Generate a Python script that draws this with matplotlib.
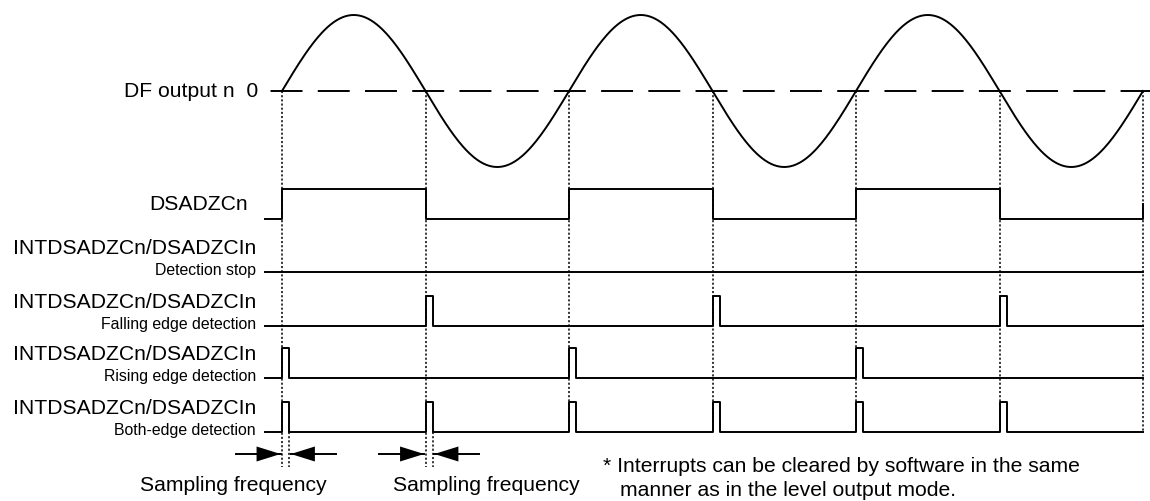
import numpy as np
import matplotlib.pyplot as plt

plt.rcParams['font.family'] = ['Liberation Sans', 'DejaVu Sans']
plt.rcParams['lines.scale_dashes'] = False

# time axis in half periods of DF output n (zero crossings at integers)
crossings = [0, 1, 2, 3, 4, 5, 6]
rising_edges = [0, 2, 4]
falling_edges = [1, 3, 5]
both_edges = [0, 1, 2, 3, 4, 5]
sample_width = 0.052          # one sampling period
marked_edges = [0, 1]         # edges where the sampling period is annotated

df_label = "DF output n  0"
zc_label = "DSADZCn"
int_label = "INTDSADZCn/DSADZCIn"
modes = ["Detection stop", "Falling edge detection",
         "Rising edge detection", "Both-edge detection"]
mode_edges = [[], falling_edges, rising_edges, both_edges]
sampling_label = "Sampling frequency"
note_lines = ["* Interrupts can be cleared by software in the same",
              "manner as in the level output mode."]

# ---- layout (pixel rows, x in half periods) ----
PX0, PXS = 282.0, 143.5
def tx(px):
    return (px - PX0) / PXS

zero_y, amp = 91, 76
zc_base = 219
mode_base = [272, 326, 378, 432]
pulse_h = 30
start_t = tx(265)
end_t = crossings[-1]
arrow_y = 454
ext_y = 467
LW = 1.4
big, small = 15.2, 11.4

fig = plt.figure(figsize=(11.5, 5.01), dpi=100)
ax = fig.add_axes([0, 0, 1, 1])
ax.set_xlim(tx(0), tx(1150))
ax.set_ylim(501, 0)
ax.axis('off')

# dotted guide lines
dot = dict(color='black', lw=1.1, linestyle=(0, (1.5, 1.5)), zorder=1)
for c in crossings:
    bottom = ext_y if c in marked_edges else mode_base[-1]
    ax.plot([c, c], [zero_y, bottom], **dot)
for c in marked_edges:
    ax.plot([c + sample_width] * 2, [mode_base[-1], ext_y], **dot)

# DF output n: sine and dashed zero level
t = np.linspace(crossings[0], crossings[-1], 600)
ax.plot(t, zero_y - amp * np.sin(np.pi * t), color='black', lw=LW, zorder=3)
ax.plot([start_t, tx(1150)], [zero_y, zero_y], color='black', lw=LW,
        linestyle=(-4, (23, 11)), zorder=2)
ax.text(tx(258), zero_y, df_label, ha='right', va='center', fontsize=big)

# DSADZCn
xs, ys, lvl = [start_t], [0], 0
for c in crossings[:-1]:
    xs += [c, c]
    ys += [lvl, 1 - lvl]
    lvl = 1 - lvl
xs += [end_t, end_t]
ys += [lvl, 0.5]
ax.plot(xs, zc_base - pulse_h * np.array(ys), color='black', lw=LW, zorder=3)
ax.text(tx(248), zc_base - 15, zc_label, ha='right', va='center', fontsize=big)

# interrupt outputs
for base, mode, edges in zip(mode_base, modes, mode_edges):
    xs, ys = [start_t], [0]
    for e in edges:
        xs += [e, e, e + sample_width, e + sample_width]
        ys += [0, 1, 1, 0]
    xs.append(end_t)
    ys.append(0)
    ax.plot(xs, base - pulse_h * np.array(ys), color='black', lw=LW, zorder=3)
    ax.text(tx(256), base - 24, int_label, ha='right', va='center', fontsize=big)
    ax.text(tx(256), base - 1.5, mode, ha='right', va='center', fontsize=small)

# sampling period arrows
tail, head_l, head_h = 45 / PXS, 24 / PXS, 7.5
for c in marked_edges:
    l_tip = c - 0.01
    r_tip = c + sample_width + 0.01
    ax.plot([l_tip - tail, l_tip], [arrow_y, arrow_y], color='black', lw=LW)
    ax.plot([r_tip, r_tip + tail], [arrow_y, arrow_y], color='black', lw=LW)
    ax.fill([l_tip, l_tip - head_l, l_tip - head_l],
            [arrow_y, arrow_y - head_h, arrow_y + head_h], color='black', lw=0)
    ax.fill([r_tip, r_tip + head_l, r_tip + head_l],
            [arrow_y, arrow_y - head_h, arrow_y + head_h], color='black', lw=0)

for cx in [tx(233), tx(486)]:
    ax.text(cx, 491, sampling_label, ha='center', va='baseline', fontsize=big)

ax.text(tx(603), 472, note_lines[0], ha='left', va='baseline', fontsize=big)
ax.text(tx(620), 496, note_lines[1], ha='left', va='baseline', fontsize=big)

fig.savefig('out.png', dpi=100)
